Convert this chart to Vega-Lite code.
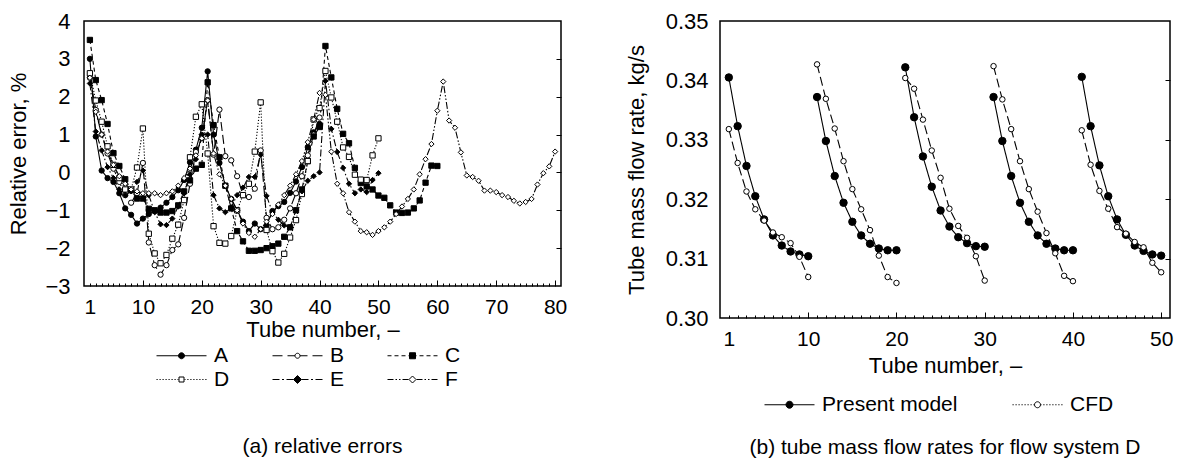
{
  "$schema": "https://vega.github.io/schema/vega-lite/v6.json",
  "padding": {"left": 7, "top": 9, "right": 0, "bottom": 0},
  "config": {
    "font": "Liberation Sans",
    "view": {"stroke": "black", "strokeWidth": 1.5},
    "axis": {"labelFont": "Liberation Sans", "titleFont": "Liberation Sans", "labelColor": "black", "titleColor": "black", "tickColor": "black", "grid": false, "domain": false},
    "legend": {"labelFont": "Liberation Sans", "labelColor": "black"},
    "title": {"font": "Liberation Sans", "color": "black"}
  },
  "datasets": {
    "a": [
      {"series":"A","tube":1,"err":3.0},{"series":"A","tube":2,"err":0.95},{"series":"A","tube":3,"err":0.05},{"series":"A","tube":4,"err":-0.15},{"series":"A","tube":5,"err":-0.25},{"series":"A","tube":6,"err":-0.55},{"series":"A","tube":7,"err":-0.95},{"series":"A","tube":8,"err":-1.12},{"series":"A","tube":9,"err":-1.35},{"series":"A","tube":10,"err":-1.22},
      {"series":"A","tube":11,"err":-1.1},{"series":"A","tube":12,"err":-1.02},{"series":"A","tube":13,"err":-0.93},{"series":"A","tube":14,"err":-0.8},{"series":"A","tube":15,"err":-0.65},{"series":"A","tube":16,"err":-0.47},{"series":"A","tube":17,"err":-0.2},{"series":"A","tube":18,"err":0.27},{"series":"A","tube":19,"err":0.6},{"series":"A","tube":20,"err":1.18},
      {"series":"A","tube":21,"err":2.67},{"series":"A","tube":22,"err":1.0},{"series":"A","tube":23,"err":0.25},{"series":"A","tube":24,"err":-0.35},{"series":"A","tube":25,"err":-0.7},{"series":"A","tube":26,"err":-1.0},{"series":"A","tube":27,"err":-1.3},{"series":"A","tube":28,"err":-1.55},{"series":"A","tube":29,"err":-1.35},{"series":"A","tube":30,"err":-1.5},
      {"series":"A","tube":31,"err":-1.4},{"series":"A","tube":32,"err":-1.02},{"series":"A","tube":33,"err":-0.89},{"series":"A","tube":34,"err":-0.78},{"series":"A","tube":35,"err":-0.54},{"series":"A","tube":36,"err":-0.24},{"series":"A","tube":37,"err":0.14},{"series":"A","tube":38,"err":0.67},{"series":"A","tube":39,"err":1.06},{"series":"A","tube":40,"err":1.28},

      {"series":"B","tube":1,"err":2.5},{"series":"B","tube":2,"err":1.65},{"series":"B","tube":3,"err":1.0},{"series":"B","tube":4,"err":0.5},{"series":"B","tube":5,"err":0.1},{"series":"B","tube":6,"err":-0.25},{"series":"B","tube":7,"err":-0.6},{"series":"B","tube":8,"err":-0.8},{"series":"B","tube":9,"err":-0.55},{"series":"B","tube":10,"err":0.25},
      {"series":"B","tube":11,"err":-1.85},{"series":"B","tube":12,"err":-2.45},{"series":"B","tube":13,"err":-2.7},{"series":"B","tube":14,"err":-2.45},{"series":"B","tube":15,"err":-2.05},{"series":"B","tube":16,"err":-1.9},{"series":"B","tube":17,"err":-1.2},{"series":"B","tube":18,"err":-0.3},{"series":"B","tube":19,"err":0.54},{"series":"B","tube":20,"err":0.9},
      {"series":"B","tube":21,"err":1.91},{"series":"B","tube":22,"err":0.47},{"series":"B","tube":23,"err":1.66},{"series":"B","tube":24,"err":0.43},{"series":"B","tube":25,"err":0.32},{"series":"B","tube":26,"err":-0.1},{"series":"B","tube":27,"err":-0.6},{"series":"B","tube":28,"err":-0.65},{"series":"B","tube":29,"err":-0.43},{"series":"B","tube":30,"err":0.58},
      {"series":"B","tube":31,"err":-1.2},{"series":"B","tube":32,"err":-1.5},{"series":"B","tube":33,"err":-1.45},{"series":"B","tube":34,"err":-1.25},{"series":"B","tube":35,"err":-0.95},{"series":"B","tube":36,"err":-0.55},{"series":"B","tube":37,"err":-0.1},{"series":"B","tube":38,"err":0.45},{"series":"B","tube":39,"err":1.0},{"series":"B","tube":40,"err":1.45},

      {"series":"C","tube":1,"err":3.5},{"series":"C","tube":2,"err":2.44},{"series":"C","tube":3,"err":1.91},{"series":"C","tube":4,"err":1.28},{"series":"C","tube":5,"err":0.51},{"series":"C","tube":6,"err":0.17},{"series":"C","tube":7,"err":-0.18},{"series":"C","tube":8,"err":-0.47},{"series":"C","tube":9,"err":-0.69},{"series":"C","tube":10,"err":-0.69},
      {"series":"C","tube":11,"err":-0.96},{"series":"C","tube":12,"err":-1.0},{"series":"C","tube":13,"err":-1.06},{"series":"C","tube":14,"err":-1.06},{"series":"C","tube":15,"err":-1.02},{"series":"C","tube":16,"err":-0.87},{"series":"C","tube":17,"err":-0.5},{"series":"C","tube":18,"err":-0.21},{"series":"C","tube":19,"err":0.1},{"series":"C","tube":20,"err":0.2},
      {"series":"C","tube":21,"err":2.38},{"series":"C","tube":22,"err":1.25},{"series":"C","tube":23,"err":0.4},{"series":"C","tube":24,"err":-0.35},{"series":"C","tube":25,"err":-0.95},{"series":"C","tube":26,"err":-1.55},{"series":"C","tube":27,"err":-1.82},{"series":"C","tube":28,"err":-2.07},{"series":"C","tube":29,"err":-2.07},{"series":"C","tube":30,"err":-2.05},
      {"series":"C","tube":31,"err":-2.0},{"series":"C","tube":32,"err":-1.95},{"series":"C","tube":33,"err":-1.88},{"series":"C","tube":34,"err":-1.7},{"series":"C","tube":35,"err":-1.45},{"series":"C","tube":36,"err":-1.0},{"series":"C","tube":37,"err":-0.45},{"series":"C","tube":38,"err":0.3},{"series":"C","tube":39,"err":0.95},{"series":"C","tube":40,"err":1.2},
      {"series":"C","tube":41,"err":3.34},{"series":"C","tube":42,"err":2.51},{"series":"C","tube":43,"err":1.68},{"series":"C","tube":44,"err":1.02},{"series":"C","tube":45,"err":0.77},{"series":"C","tube":46,"err":0.12},{"series":"C","tube":47,"err":-0.28},{"series":"C","tube":48,"err":-0.37},{"series":"C","tube":49,"err":-0.45},{"series":"C","tube":50,"err":-0.61},
      {"series":"C","tube":51,"err":-0.67},{"series":"C","tube":52,"err":-0.87},{"series":"C","tube":53,"err":-1.06},{"series":"C","tube":54,"err":-1.07},{"series":"C","tube":55,"err":-1.06},{"series":"C","tube":56,"err":-0.95},{"series":"C","tube":57,"err":-0.74},{"series":"C","tube":58,"err":-0.27},{"series":"C","tube":59,"err":0.18},{"series":"C","tube":60,"err":0.17},

      {"series":"D","tube":1,"err":2.62},{"series":"D","tube":2,"err":1.9},{"series":"D","tube":3,"err":1.34},{"series":"D","tube":4,"err":0.69},{"series":"D","tube":5,"err":0.2},{"series":"D","tube":6,"err":-0.15},{"series":"D","tube":7,"err":-0.45},{"series":"D","tube":8,"err":-0.45},{"series":"D","tube":9,"err":0.13},{"series":"D","tube":10,"err":1.16},
      {"series":"D","tube":11,"err":-1.62},{"series":"D","tube":12,"err":-2.14},{"series":"D","tube":13,"err":-2.4},{"series":"D","tube":14,"err":-2.18},{"series":"D","tube":15,"err":-1.75},{"series":"D","tube":16,"err":-1.38},{"series":"D","tube":17,"err":-0.73},{"series":"D","tube":18,"err":0.4},{"series":"D","tube":19,"err":1.47},{"series":"D","tube":20,"err":1.8},
      {"series":"D","tube":21,"err":0.5},{"series":"D","tube":22,"err":-1.42},{"series":"D","tube":23,"err":-1.86},{"series":"D","tube":24,"err":-1.88},{"series":"D","tube":25,"err":-1.68},{"series":"D","tube":26,"err":-1.0},{"series":"D","tube":27,"err":-0.6},{"series":"D","tube":28,"err":-0.3},{"series":"D","tube":29,"err":0.55},{"series":"D","tube":30,"err":1.85},
      {"series":"D","tube":31,"err":-1.52},{"series":"D","tube":32,"err":-2.08},{"series":"D","tube":33,"err":-2.38},{"series":"D","tube":34,"err":-2.15},{"series":"D","tube":35,"err":-1.72},{"series":"D","tube":36,"err":-1.26},{"series":"D","tube":37,"err":-0.57},{"series":"D","tube":38,"err":0.3},{"series":"D","tube":39,"err":1.4},{"series":"D","tube":40,"err":1.7},
      {"series":"D","tube":41,"err":2.68},{"series":"D","tube":42,"err":1.98},{"series":"D","tube":43,"err":1.34},{"series":"D","tube":44,"err":0.66},{"series":"D","tube":45,"err":0.41},{"series":"D","tube":46,"err":-0.06},{"series":"D","tube":47,"err":-0.19},{"series":"D","tube":48,"err":-0.2},{"series":"D","tube":49,"err":0.45},{"series":"D","tube":50,"err":0.9},

      {"series":"E","tube":1,"err":2.35},{"series":"E","tube":2,"err":1.08},{"series":"E","tube":3,"err":0.58},{"series":"E","tube":4,"err":0.14},{"series":"E","tube":5,"err":-0.15},{"series":"E","tube":6,"err":-0.45},{"series":"E","tube":7,"err":-0.6},{"series":"E","tube":8,"err":-0.5},{"series":"E","tube":9,"err":-0.25},{"series":"E","tube":10,"err":0.05},
      {"series":"E","tube":11,"err":-0.6},{"series":"E","tube":12,"err":-1.05},{"series":"E","tube":13,"err":-1.37},{"series":"E","tube":14,"err":-1.39},{"series":"E","tube":15,"err":-1.22},{"series":"E","tube":16,"err":-0.9},{"series":"E","tube":17,"err":-0.55},{"series":"E","tube":18,"err":-0.05},{"series":"E","tube":19,"err":0.35},{"series":"E","tube":20,"err":1.0},
      {"series":"E","tube":21,"err":1.0},{"series":"E","tube":22,"err":-0.6},{"series":"E","tube":23,"err":-0.95},{"series":"E","tube":24,"err":-1.05},{"series":"E","tube":25,"err":-0.92},{"series":"E","tube":26,"err":-0.6},{"series":"E","tube":27,"err":-0.4},{"series":"E","tube":28,"err":-0.12},{"series":"E","tube":29,"err":-0.12},{"series":"E","tube":30,"err":0.47},
      {"series":"E","tube":31,"err":-0.62},{"series":"E","tube":32,"err":-1.05},{"series":"E","tube":33,"err":-1.25},{"series":"E","tube":34,"err":-1.4},{"series":"E","tube":35,"err":-1.45},{"series":"E","tube":36,"err":-1.0},{"series":"E","tube":37,"err":-0.5},{"series":"E","tube":38,"err":-0.22},{"series":"E","tube":39,"err":-0.1},{"series":"E","tube":40,"err":0.0},
      {"series":"E","tube":41,"err":2.42},{"series":"E","tube":42,"err":1.15},{"series":"E","tube":43,"err":0.54},{"series":"E","tube":44,"err":0.12},{"series":"E","tube":45,"err":-0.3},{"series":"E","tube":46,"err":-0.55},{"series":"E","tube":47,"err":-0.45},{"series":"E","tube":48,"err":-0.52},{"series":"E","tube":49,"err":-0.2},{"series":"E","tube":50,"err":-0.02},

      {"series":"F","tube":1,"err":2.5},{"series":"F","tube":2,"err":1.6},{"series":"F","tube":3,"err":1.0},{"series":"F","tube":4,"err":0.55},{"series":"F","tube":5,"err":0.2},{"series":"F","tube":6,"err":-0.1},{"series":"F","tube":7,"err":-0.3},{"series":"F","tube":8,"err":-0.45},{"series":"F","tube":9,"err":-0.5},{"series":"F","tube":10,"err":-0.55},
      {"series":"F","tube":11,"err":-0.55},{"series":"F","tube":12,"err":-0.55},{"series":"F","tube":13,"err":-0.6},{"series":"F","tube":14,"err":-0.55},{"series":"F","tube":15,"err":-0.5},{"series":"F","tube":16,"err":-0.35},{"series":"F","tube":17,"err":-0.15},{"series":"F","tube":18,"err":0.1},{"series":"F","tube":19,"err":0.45},{"series":"F","tube":20,"err":0.9},
      {"series":"F","tube":21,"err":1.9},{"series":"F","tube":22,"err":0.5},{"series":"F","tube":23,"err":-0.05},{"series":"F","tube":24,"err":-0.35},{"series":"F","tube":25,"err":-0.7},{"series":"F","tube":26,"err":-1.0},{"series":"F","tube":27,"err":-1.35},{"series":"F","tube":28,"err":-1.6},{"series":"F","tube":29,"err":-1.7},{"series":"F","tube":30,"err":-1.5},
      {"series":"F","tube":31,"err":-1.3},{"series":"F","tube":32,"err":-1.1},{"series":"F","tube":33,"err":-0.85},{"series":"F","tube":34,"err":-0.6},{"series":"F","tube":35,"err":-0.35},{"series":"F","tube":36,"err":-0.05},{"series":"F","tube":37,"err":0.3},{"series":"F","tube":38,"err":0.8},{"series":"F","tube":39,"err":1.4},{"series":"F","tube":40,"err":2.1},
      {"series":"F","tube":41,"err":2.05},{"series":"F","tube":42,"err":0.55},{"series":"F","tube":43,"err":-0.3},{"series":"F","tube":44,"err":-0.55},{"series":"F","tube":45,"err":-1.05},{"series":"F","tube":46,"err":-1.3},{"series":"F","tube":47,"err":-1.55},{"series":"F","tube":48,"err":-1.58},{"series":"F","tube":49,"err":-1.65},{"series":"F","tube":50,"err":-1.55},
      {"series":"F","tube":51,"err":-1.45},{"series":"F","tube":52,"err":-1.3},{"series":"F","tube":53,"err":-1.1},{"series":"F","tube":54,"err":-0.9},{"series":"F","tube":55,"err":-0.7},{"series":"F","tube":56,"err":-0.45},{"series":"F","tube":57,"err":-0.05},{"series":"F","tube":58,"err":0.35},{"series":"F","tube":59,"err":0.75},{"series":"F","tube":60,"err":1.63},
      {"series":"F","tube":61,"err":2.4},{"series":"F","tube":62,"err":1.37},{"series":"F","tube":63,"err":1.18},{"series":"F","tube":64,"err":0.53},{"series":"F","tube":65,"err":-0.08},{"series":"F","tube":66,"err":-0.12},{"series":"F","tube":67,"err":-0.22},{"series":"F","tube":68,"err":-0.48},{"series":"F","tube":69,"err":-0.48},{"series":"F","tube":70,"err":-0.52},
      {"series":"F","tube":71,"err":-0.6},{"series":"F","tube":72,"err":-0.65},{"series":"F","tube":73,"err":-0.75},{"series":"F","tube":74,"err":-0.82},{"series":"F","tube":75,"err":-0.78},{"series":"F","tube":76,"err":-0.7},{"series":"F","tube":77,"err":-0.32},{"series":"F","tube":78,"err":-0.02},{"series":"F","tube":79,"err":0.16},{"series":"F","tube":80,"err":0.55}
    ],
    "b": [
      {"model":"Present model","pass":1,"tube":1,"flow":0.3405},{"model":"Present model","pass":1,"tube":2,"flow":0.3323},{"model":"Present model","pass":1,"tube":3,"flow":0.3256},{"model":"Present model","pass":1,"tube":4,"flow":0.3205},{"model":"Present model","pass":1,"tube":5,"flow":0.3166},{"model":"Present model","pass":1,"tube":6,"flow":0.3139},{"model":"Present model","pass":1,"tube":7,"flow":0.3122},{"model":"Present model","pass":1,"tube":8,"flow":0.3112},{"model":"Present model","pass":1,"tube":9,"flow":0.3107},{"model":"Present model","pass":1,"tube":10,"flow":0.3104},
      {"model":"Present model","pass":2,"tube":11,"flow":0.3372},{"model":"Present model","pass":2,"tube":12,"flow":0.3298},{"model":"Present model","pass":2,"tube":13,"flow":0.3239},{"model":"Present model","pass":2,"tube":14,"flow":0.3194},{"model":"Present model","pass":2,"tube":15,"flow":0.3162},{"model":"Present model","pass":2,"tube":16,"flow":0.3139},{"model":"Present model","pass":2,"tube":17,"flow":0.3125},{"model":"Present model","pass":2,"tube":18,"flow":0.3117},{"model":"Present model","pass":2,"tube":19,"flow":0.3114},{"model":"Present model","pass":2,"tube":20,"flow":0.3114},
      {"model":"Present model","pass":3,"tube":21,"flow":0.3422},{"model":"Present model","pass":3,"tube":22,"flow":0.3338},{"model":"Present model","pass":3,"tube":23,"flow":0.3272},{"model":"Present model","pass":3,"tube":24,"flow":0.3221},{"model":"Present model","pass":3,"tube":25,"flow":0.3181},{"model":"Present model","pass":3,"tube":26,"flow":0.3154},{"model":"Present model","pass":3,"tube":27,"flow":0.3136},{"model":"Present model","pass":3,"tube":28,"flow":0.3126},{"model":"Present model","pass":3,"tube":29,"flow":0.3121},{"model":"Present model","pass":3,"tube":30,"flow":0.312},
      {"model":"Present model","pass":4,"tube":31,"flow":0.3372},{"model":"Present model","pass":4,"tube":32,"flow":0.3298},{"model":"Present model","pass":4,"tube":33,"flow":0.3239},{"model":"Present model","pass":4,"tube":34,"flow":0.3194},{"model":"Present model","pass":4,"tube":35,"flow":0.3162},{"model":"Present model","pass":4,"tube":36,"flow":0.3139},{"model":"Present model","pass":4,"tube":37,"flow":0.3125},{"model":"Present model","pass":4,"tube":38,"flow":0.3117},{"model":"Present model","pass":4,"tube":39,"flow":0.3114},{"model":"Present model","pass":4,"tube":40,"flow":0.3114},
      {"model":"Present model","pass":5,"tube":41,"flow":0.3406},{"model":"Present model","pass":5,"tube":42,"flow":0.3323},{"model":"Present model","pass":5,"tube":43,"flow":0.3257},{"model":"Present model","pass":5,"tube":44,"flow":0.3205},{"model":"Present model","pass":5,"tube":45,"flow":0.3166},{"model":"Present model","pass":5,"tube":46,"flow":0.314},{"model":"Present model","pass":5,"tube":47,"flow":0.3122},{"model":"Present model","pass":5,"tube":48,"flow":0.3113},{"model":"Present model","pass":5,"tube":49,"flow":0.3107},{"model":"Present model","pass":5,"tube":50,"flow":0.3105},
      {"model":"CFD","pass":1,"tube":1,"flow":0.3318},{"model":"CFD","pass":1,"tube":2,"flow":0.3261},{"model":"CFD","pass":1,"tube":3,"flow":0.3213},{"model":"CFD","pass":1,"tube":4,"flow":0.3183},{"model":"CFD","pass":1,"tube":5,"flow":0.3164},{"model":"CFD","pass":1,"tube":6,"flow":0.3144},{"model":"CFD","pass":1,"tube":7,"flow":0.3136},{"model":"CFD","pass":1,"tube":8,"flow":0.3126},{"model":"CFD","pass":1,"tube":9,"flow":0.3103},{"model":"CFD","pass":1,"tube":10,"flow":0.3069},
      {"model":"CFD","pass":2,"tube":11,"flow":0.3427},{"model":"CFD","pass":2,"tube":12,"flow":0.3369},{"model":"CFD","pass":2,"tube":13,"flow":0.3319},{"model":"CFD","pass":2,"tube":14,"flow":0.3264},{"model":"CFD","pass":2,"tube":15,"flow":0.3217},{"model":"CFD","pass":2,"tube":16,"flow":0.3183},{"model":"CFD","pass":2,"tube":17,"flow":0.3148},{"model":"CFD","pass":2,"tube":18,"flow":0.3105},{"model":"CFD","pass":2,"tube":19,"flow":0.3069},{"model":"CFD","pass":2,"tube":20,"flow":0.3059},
      {"model":"CFD","pass":3,"tube":21,"flow":0.3404},{"model":"CFD","pass":3,"tube":22,"flow":0.3386},{"model":"CFD","pass":3,"tube":23,"flow":0.3334},{"model":"CFD","pass":3,"tube":24,"flow":0.3282},{"model":"CFD","pass":3,"tube":25,"flow":0.3236},{"model":"CFD","pass":3,"tube":26,"flow":0.3184},{"model":"CFD","pass":3,"tube":27,"flow":0.3155},{"model":"CFD","pass":3,"tube":28,"flow":0.3135},{"model":"CFD","pass":3,"tube":29,"flow":0.3104},{"model":"CFD","pass":3,"tube":30,"flow":0.3063},
      {"model":"CFD","pass":4,"tube":31,"flow":0.3424},{"model":"CFD","pass":4,"tube":32,"flow":0.3368},{"model":"CFD","pass":4,"tube":33,"flow":0.3318},{"model":"CFD","pass":4,"tube":34,"flow":0.3264},{"model":"CFD","pass":4,"tube":35,"flow":0.3217},{"model":"CFD","pass":4,"tube":36,"flow":0.3179},{"model":"CFD","pass":4,"tube":37,"flow":0.3143},{"model":"CFD","pass":4,"tube":38,"flow":0.3109},{"model":"CFD","pass":4,"tube":39,"flow":0.3071},{"model":"CFD","pass":4,"tube":40,"flow":0.3062},
      {"model":"CFD","pass":5,"tube":41,"flow":0.3316},{"model":"CFD","pass":5,"tube":42,"flow":0.3258},{"model":"CFD","pass":5,"tube":43,"flow":0.3214},{"model":"CFD","pass":5,"tube":44,"flow":0.3184},{"model":"CFD","pass":5,"tube":45,"flow":0.3153},{"model":"CFD","pass":5,"tube":46,"flow":0.3142},{"model":"CFD","pass":5,"tube":47,"flow":0.3128},{"model":"CFD","pass":5,"tube":48,"flow":0.3119},{"model":"CFD","pass":5,"tube":49,"flow":0.3093},{"model":"CFD","pass":5,"tube":50,"flow":0.3077}
    ]
  },
  "hconcat": [
    {
      "width": 477,
      "height": 265,
      "title": {"text": "(a) relative errors", "orient": "bottom", "anchor": "middle", "frame": "group", "fontSize": 21, "fontWeight": "normal", "offset": 46},
      "layer": [
        {
          "mark": {"type": "rule", "color": "black", "strokeWidth": 1.2},
          "encoding": {"y": {"datum": 0, "type": "quantitative", "scale": {"domain": [-3, 4], "nice": false, "zero": false}, "axis": null}}
        },
        {
          "data": {"name": "a"},
          "mark": {"type": "line", "color": "black", "strokeWidth": 1.1},
          "encoding": {
            "x": {"field": "tube", "type": "quantitative", "scale": {"domain": [0, 81], "nice": false, "zero": false},
                  "axis": {"orient": "bottom", "values": [1, 10, 20, 30, 40, 50, 60, 70, 80], "ticks": false, "labelFontSize": 21, "labelPadding": 10, "labelFlush": false, "title": "Tube number, –", "titleFontSize": 22, "titleFontWeight": "normal", "titlePadding": 2}},
            "y": {"field": "err", "type": "quantitative", "scale": {"domain": [-3, 4], "nice": false, "zero": false},
                  "axis": {"values": [-3, -2, -1, 0, 1, 2, 3, 4], "ticks": false, "labelFontSize": 22, "labelPadding": 14, "labelFlush": false, "title": "Relative error, %", "titleFontSize": 22, "titleFontWeight": "normal", "titlePadding": 14}},
            "strokeDash": {"field": "series", "type": "nominal", "scale": {"domain": ["A", "B", "C", "D", "E", "F"], "range": [[1, 0], [9, 4], [4, 3], [1.2, 1.8], [7, 2.5, 1.5, 2.5], [7, 2, 1.5, 2, 1.5, 2]]}, "legend": null}
          }
        },
        {
          "data": {"name": "a"},
          "mark": {"type": "point", "filled": true, "stroke": "black", "strokeWidth": 1, "size": 28, "opacity": 1},
          "encoding": {
            "x": {"field": "tube", "type": "quantitative",
                  "axis": {"orient": "bottom", "values": [1,2,3,4,5,6,7,8,9,10,11,12,13,14,15,16,17,18,19,20,21,22,23,24,25,26,27,28,29,30,31,32,33,34,35,36,37,38,39,40,41,42,43,44,45,46,47,48,49,50,51,52,53,54,55,56,57,58,59,60,61,62,63,64,65,66,67,68,69,70,71,72,73,74,75,76,77,78,79,80], "labels": false, "title": null, "tickSize": {"condition": {"test": "datum.value % 10 === 0", "value": -6}, "value": -3}, "tickWidth": 1}},
            "y": {"field": "err", "type": "quantitative",
                  "axis": {"orient": "right", "values": [-2, -1, 0, 1, 2, 3], "labels": false, "title": null, "tickSize": -5, "tickWidth": 1}},
            "shape": {"field": "series", "type": "nominal", "scale": {"domain": ["A", "B", "C", "D", "E", "F"], "range": ["circle", "circle", "square", "square", "diamond", "diamond"]}, "legend": null},
            "fill": {"field": "series", "type": "nominal", "scale": {"domain": ["A", "B", "C", "D", "E", "F"], "range": ["black", "white", "black", "white", "black", "white"]}, "legend": null}
          }
        },
        {
          "data": {"name": "a"},
          "transform": [{"filter": "false"}],
          "mark": {"type": "point", "filled": true, "stroke": "black", "strokeWidth": 1, "opacity": 1},
          "encoding": {
            "x": {"field": "tube", "type": "quantitative", "axis": null},
            "y": {"field": "err", "type": "quantitative", "axis": null},
            "shape": {"field": "series", "type": "nominal",
                      "scale": {"domain": ["A", "B", "C", "D", "E", "F"], "range": [
                        "M-25,0H25M-3,0A3,3,0,1,0,3,0A3,3,0,1,0,-3,0Z",
                        "M-25,0H-15M-10,0H-2.5M2.5,0H10M15,0H25M-2.5,0A2.5,2.5,0,1,0,2.5,0A2.5,2.5,0,1,0,-2.5,0Z",
                        "M-25,0H-21M-18,0H-14M-11,0H-7M-4,0H-3M3,0H4M7,0H11M14,0H18M21,0H25M-3,-3H3V3H-3Z",
                        "M-25,0H-23.8M-22,0H-20.8M-19,0H-17.8M-16,0H-14.8M-13,0H-11.8M-10,0H-8.8M-7,0H-5.8M-4,0H-3M3,0H4M5.8,0H7M8.8,0H10M11.8,0H13M14.8,0H16M17.8,0H19M20.8,0H22M23.8,0H25M-2.5,-2.5H2.5V2.5H-2.5Z",
                        "M-25,0H-18M-15.5,0H-13.5M-11,0H-4M4,0H11M13.5,0H15.5M18,0H25M0,-4L4,0L0,4L-4,0Z",
                        "M-25,0H-19M-17,0H-15.5M-13.5,0H-12M-10,0H-4M4,0H10M12,0H13.5M15.5,0H17M19,0H25M0,-3.5L3.5,0L0,3.5L-3.5,0Z"
                      ]},
                      "legend": {"orient": "none", "legendX": 63, "legendY": 324, "direction": "horizontal", "columns": 3, "title": null, "symbolSize": 4, "symbolOffset": 24, "labelOffset": 22, "labelFontSize": 21, "columnPadding": 33, "rowPadding": 2, "symbolFillColor": "white", "symbolStrokeWidth": 1, "padding": 0}},
            "fill": {"field": "series", "type": "nominal", "scale": {"domain": ["A", "B", "C", "D", "E", "F"], "range": ["black", "white", "black", "white", "black", "white"]},
                     "legend": {"orient": "none", "legendX": 63, "legendY": 324, "direction": "horizontal", "columns": 3, "title": null, "symbolSize": 4, "symbolOffset": 24, "labelOffset": 22, "labelFontSize": 21, "columnPadding": 33, "rowPadding": 2, "symbolFillColor": "white", "symbolStrokeWidth": 1, "padding": 0}}
          }
        }
      ],
      "resolve": {"scale": {"shape": "independent", "fill": "independent"}, "axis": {"x": "independent", "y": "independent"}}
    },
    {
      "width": 450,
      "height": 297,
      "title": {"text": "(b) tube mass flow rates for flow system D", "orient": "bottom", "anchor": "middle", "frame": "group", "fontSize": 21, "fontWeight": "normal", "offset": 22},
      "layer": [
        {
          "data": {"name": "b"},
          "mark": {"type": "line", "color": "black", "strokeWidth": 1.1},
          "encoding": {
            "x": {"field": "tube", "type": "quantitative", "scale": {"domain": [0, 51], "nice": false, "zero": false},
                  "axis": {"orient": "bottom", "values": [1, 10, 20, 30, 40, 50], "ticks": false, "labelFontSize": 21, "labelPadding": 10, "labelFlush": false, "title": "Tube number, –", "titleFontSize": 22, "titleFontWeight": "normal", "titlePadding": 6}},
            "y": {"field": "flow", "type": "quantitative", "scale": {"domain": [0.3, 0.35], "nice": false, "zero": false},
                  "axis": {"values": [0.3, 0.31, 0.32, 0.33, 0.34, 0.35], "format": ".2f", "ticks": false, "labelFontSize": 22, "labelPadding": 12, "labelFlush": false, "title": "Tube mass flow rate, kg/s", "titleFontSize": 22, "titleFontWeight": "normal", "titlePadding": 17}},
            "detail": {"field": "pass", "type": "nominal"},
            "strokeDash": {"field": "model", "type": "nominal", "scale": {"domain": ["Present model", "CFD"], "range": [[1, 0], [1.2, 1.8]]}, "legend": null}
          }
        },
        {
          "data": {"name": "b"},
          "mark": {"type": "point", "filled": true, "stroke": "black", "strokeWidth": 1, "opacity": 1, "shape": "circle"},
          "encoding": {
            "x": {"field": "tube", "type": "quantitative",
                  "axis": {"orient": "bottom", "values": [1,2,3,4,5,6,7,8,9,10,11,12,13,14,15,16,17,18,19,20,21,22,23,24,25,26,27,28,29,30,31,32,33,34,35,36,37,38,39,40,41,42,43,44,45,46,47,48,49,50], "labels": false, "title": null, "tickSize": {"condition": {"test": "datum.value % 10 === 0", "value": -6}, "value": -3}, "tickWidth": 1}},
            "y": {"field": "flow", "type": "quantitative",
                  "axis": {"orient": "right", "values": [0.31, 0.32, 0.33, 0.34], "labels": false, "title": null, "tickSize": -5, "tickWidth": 1}},
            "size": {"field": "model", "type": "nominal", "scale": {"domain": ["Present model", "CFD"], "range": [55, 30]}, "legend": null},
            "fill": {"field": "model", "type": "nominal", "scale": {"domain": ["Present model", "CFD"], "range": ["black", "white"]}, "legend": null}
          }
        },
        {
          "data": {"name": "b"},
          "transform": [{"filter": "false"}],
          "mark": {"type": "point", "filled": true, "stroke": "black", "strokeWidth": 1, "opacity": 1},
          "encoding": {
            "x": {"field": "tube", "type": "quantitative", "axis": null},
            "y": {"field": "flow", "type": "quantitative", "axis": null},
            "shape": {"field": "model", "type": "nominal",
                      "scale": {"domain": ["Present model", "CFD"], "range": [
                        "M-25,0H25M-3.5,0A3.5,3.5,0,1,0,3.5,0A3.5,3.5,0,1,0,-3.5,0Z",
                        "M-25,0H-23.8M-22,0H-20.8M-19,0H-17.8M-16,0H-14.8M-13,0H-11.8M-10,0H-8.8M-7,0H-5.8M-4,0H-3M3,0H4M5.8,0H7M8.8,0H10M11.8,0H13M14.8,0H16M17.8,0H19M20.8,0H22M23.8,0H25M-3,0A3,3,0,1,0,3,0A3,3,0,1,0,-3,0Z"
                      ]},
                      "legend": {"orient": "none", "legendX": 35, "legendY": 373, "direction": "horizontal", "columns": 2, "title": null, "symbolSize": 4, "symbolOffset": 24, "labelOffset": 22, "labelFontSize": 21, "columnPadding": 45, "symbolFillColor": "white", "symbolStrokeWidth": 1, "padding": 0}},
            "fill": {"field": "model", "type": "nominal", "scale": {"domain": ["Present model", "CFD"], "range": ["black", "white"]},
                     "legend": {"orient": "none", "legendX": 35, "legendY": 373, "direction": "horizontal", "columns": 2, "title": null, "symbolSize": 4, "symbolOffset": 24, "labelOffset": 22, "labelFontSize": 21, "columnPadding": 45, "symbolFillColor": "white", "symbolStrokeWidth": 1, "padding": 0}}
          }
        }
      ],
      "resolve": {"scale": {"shape": "independent", "fill": "independent", "size": "independent"}, "axis": {"x": "independent", "y": "independent"}}
    }
  ],
  "spacing": 56
}
